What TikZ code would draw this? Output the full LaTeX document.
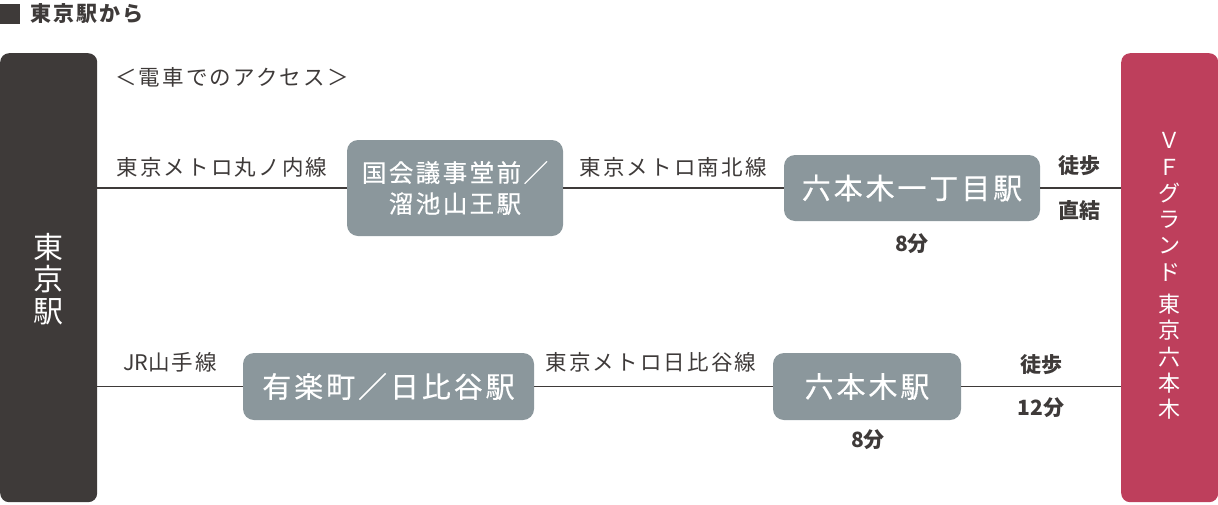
\documentclass[tikz,border=0pt]{standalone}
\usepackage{fontspec}
\newfontfamily\cjk[LetterSpace=10]{Noto Sans CJK JP}
\newfontfamily\cjkm[LetterSpace=10,FakeBold=0.4]{Noto Sans CJK JP}
\newfontfamily\cjkplain{Noto Sans CJK JP}
\definecolor{dk}{HTML}{3E3A39}
\definecolor{rd}{HTML}{BE3F5C}
\definecolor{gb}{HTML}{8B979C}
\begin{document}
\begin{tikzpicture}[x=1pt,y=-1pt,
  endbox/.style={rectangle,rounded corners=9pt,inner sep=0pt,anchor=north west,minimum width=97pt,minimum height=449pt},
  stn/.style={rectangle,rounded corners=11pt,fill=gb,inner sep=0pt,text=white,align=center,font=\cjkm\fontsize{29}{32}\selectfont},
  lbl/.style={text=dk,inner sep=0pt,font=\cjk\fontsize{21.5}{24}\selectfont},
  blbl/.style={text=dk,inner sep=0pt,font=\cjkplain\bfseries\fontsize{21}{24}\selectfont},
  conn/.style={draw=dk,line width=1.8pt}]
\useasboundingbox (0,0) rectangle (1218,504);
% title
\node[fill=dk,minimum size=20pt,inner sep=0pt,anchor=north west] (sq) at (0,4) {};
\node[blbl,font=\cjk\bfseries\fontsize{21}{24}\selectfont,anchor=west] (title) at (30,14) {東京駅から};
% end boxes
\node[endbox,fill=dk] (lb) at (0,53) {};
\node[endbox,fill=rd] (rb) at (1121,53) {};
\node[text=white,align=center,inner sep=0pt,font=\cjkplain\fontsize{30}{32}\selectfont] (lbt) at (48.5,279) {東\\京\\駅};
\node[text=white,align=center,inner sep=0pt,font=\cjkplain\fontsize{22}{26.3}\selectfont] (rbt) at (1169.5,276) {Ｖ\\Ｆ\\グ\\ラ\\ン\\ド\\[6pt]東\\京\\六\\本\\木};
% subtitle
\node[lbl] (sub) at (232,77) {＜電車でのアクセス＞};
% stations
\node[stn,font=\cjkm\fontsize{24.5}{31}\selectfont,minimum width=216pt,minimum height=96pt] (s1) at (455,188) {国会議事堂前／\\溜池山王駅};
\node[stn,minimum width=256pt,minimum height=66pt] (s2) at (912,188) {六本木一丁目駅};
\node[stn,minimum width=291pt,minimum height=67pt] (s3) at (388.5,386.5) {有楽町／日比谷駅};
\node[stn,minimum width=188pt,minimum height=67pt] (s4) at (867,386.5) {六本木駅};
% connectors
\draw[conn] (lb.east |- s1.west) -- (s1.west);
\draw[conn] (s1.east) -- (s2.west);
\draw[conn] (s2.east) -- (rb.west |- s2.east);
\draw[conn] (lb.east |- s3.west) -- (s3.west);
\draw[conn] (s3.east) -- (s4.west);
\draw[conn] (s4.east) -- (rb.west |- s4.east);
% labels
\node[lbl] (l1) at (222,167) {東京メトロ丸ノ内線};
\node[lbl] (l2) at (673,167) {東京メトロ南北線};
\node[blbl] (t1) at (912,244) {8分};
\node[blbl] (w1) at (1079,166) {徒歩};
\node[blbl] (d1) at (1079,210) {直結};
\node[lbl] (l3) at (170,362) {{\cjkplain JR}山手線};
\node[lbl] (l4) at (651,362) {東京メトロ日比谷線};
\node[blbl] (t2) at (868,440) {8分};
\node[blbl] (w2) at (1041,365) {徒歩};
\node[blbl] (t3) at (1041,408) {12分};
\end{tikzpicture}
\end{document}
